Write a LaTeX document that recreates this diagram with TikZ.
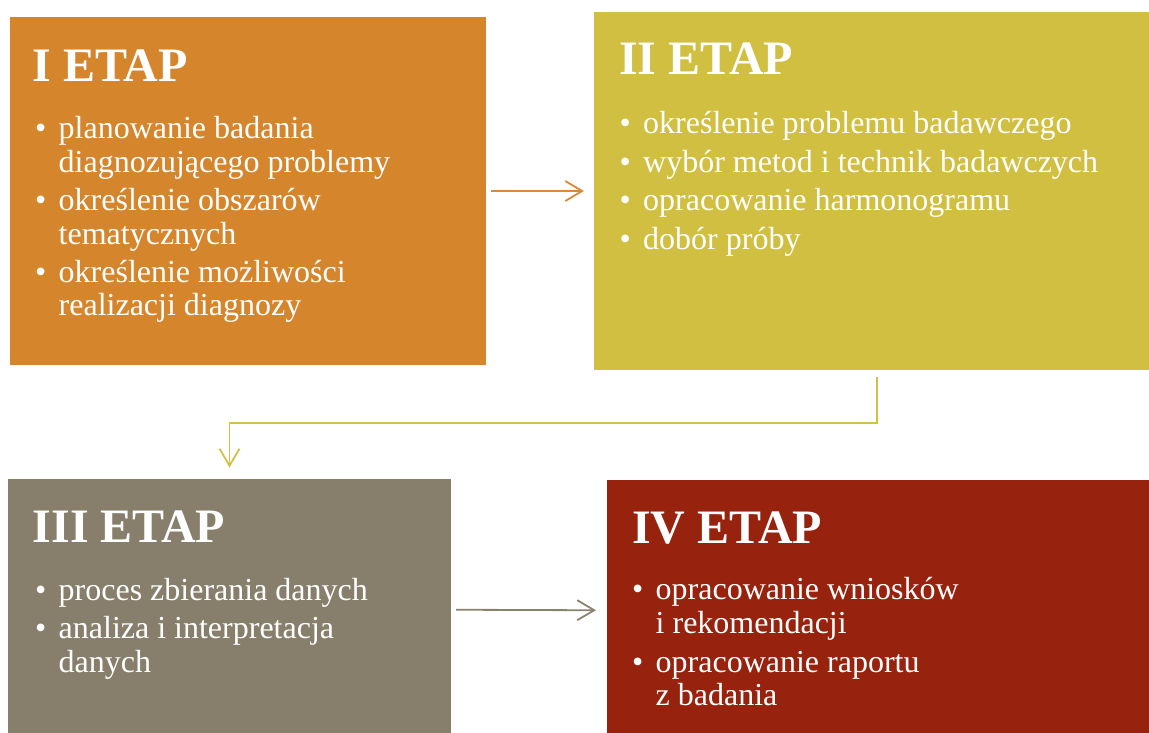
\documentclass[tikz,border=0pt]{standalone}
\usepackage{fontspec}
\setmainfont{Liberation Serif}
\usetikzlibrary{arrows.meta}
\definecolor{cOne}{HTML}{D5862D}
\definecolor{cTwo}{HTML}{D1BF42}
\definecolor{cThree}{HTML}{877F6C}
\definecolor{cFour}{HTML}{97220D}
\definecolor{aOne}{HTML}{DA8A38}
\definecolor{aTwo}{HTML}{D3C147}
\definecolor{aThree}{HTML}{8A8270}
\newcommand\pitem[1]{\hangindent=23.5pt\hangafter=1\noindent\makebox[23.5pt][l]{\textbullet}#1\par}
\newcommand\plist[2]{\parbox[t]{520pt}{\fontsize{32}{33.5}\selectfont\setlength\parskip{#1}#2}}
\tikzset{
  stagebox/.style={rectangle, inner sep=0pt, outer sep=0pt, anchor=north west},
  titletext/.style={anchor=base west, inner sep=0pt, text=white, font=\fontsize{48}{50}\selectfont\bfseries},
  listtext/.style={anchor=base west, inner sep=0pt, text=white},
  conn/.style={line width=1.8pt, -{Straight Barb[length=17pt,width=20pt]}}
}
\begin{document}
\begin{tikzpicture}[x=1pt,y=-1pt]
\useasboundingbox (0,0) rectangle (1149,733);
% boxes
\node[stagebox, fill=cOne, minimum width=476.5pt, minimum height=347pt] (b1) at (9.5,17.5) {};
\node[stagebox, fill=cTwo, minimum width=555pt, minimum height=358pt] (b2) at (594,12) {};
\node[stagebox, fill=cThree, minimum width=443pt, minimum height=254.5pt] (b3) at (8,478.5) {};
\node[stagebox, fill=cFour, minimum width=542pt, minimum height=253.5pt] (b4) at (607,479.5) {};
% titles
\node[titletext] (t1) at (32.5,81.5) {I ETAP};
\node[titletext] (t2) at (619,75) {II ETAP};
\node[titletext] (t3) at (32.5,542) {III ETAP};
\node[titletext] (t4) at (632,543) {IV ETAP};
% lists
\node[listtext] (l1) at (35,139) {\plist{4.7pt}{%
\pitem{planowanie badania\\diagnozującego problemy}
\pitem{określenie obszarów\\tematycznych}
\pitem{określenie możliwości\\realizacji diagnozy}}};
\node[listtext] (l2) at (619.5,133.5) {\plist{5.2pt}{%
\pitem{określenie problemu badawczego}
\pitem{wybór metod i technik badawczych}
\pitem{opracowanie harmonogramu}
\pitem{dobór próby}}};
\node[listtext] (l3) at (35,600.3) {\plist{4.8pt}{%
\pitem{proces zbierania danych}
\pitem{analiza i interpretacja\\danych}}};
\node[listtext] (l4) at (632,599.8) {\plist{5.2pt}{%
\pitem{opracowanie wniosków\\i rekomendacji}
\pitem{opracowanie raportu\\z badania}}};
% connectors
\draw[conn, aOne] ([xshift=5pt]b1.east) -- ([xshift=-10pt]b2.west);
\draw[conn, aTwo] ([shift={(5.5,7)}]b2.south) -- ++(0,46) -| ([yshift=11pt]b3.north);
\draw[conn, aThree] ([shift={(5,4)}]b3.east) -- ([shift={(-11,4)}]b4.west);
\end{tikzpicture}
\end{document}
